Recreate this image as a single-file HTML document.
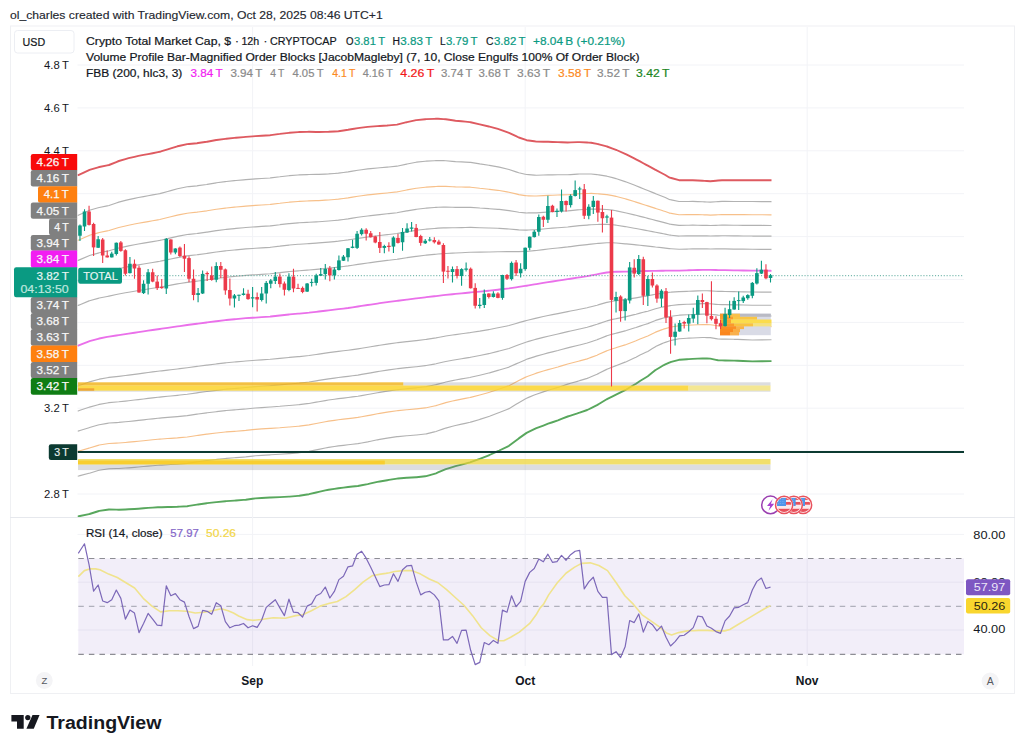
<!DOCTYPE html>
<html lang="en"><head><meta charset="utf-8"><title>Crypto Total Market Cap chart</title>
<style>html,body{margin:0;padding:0;background:#fff}body{width:1024px;height:751px;overflow:hidden}svg{display:block;font-family:"Liberation Sans", sans-serif}</style>
</head><body>
<svg width="1024" height="751" viewBox="0 0 1024 751">
<rect width="1024" height="751" fill="#ffffff"/>
<defs>
<clipPath id="mainclip"><rect x="77.5" y="27" width="886.5" height="490"/></clipPath>
<clipPath id="rsiclip"><rect x="77.5" y="518" width="886.5" height="148"/></clipPath>
<clipPath id="flagclip"><circle cx="0" cy="0" r="7.15"/></clipPath>
</defs>
<text x="10" y="19.2" font-size="11.8" fill="#24272f" stroke="#24272f" stroke-width="0.15" textLength="372.7" lengthAdjust="spacingAndGlyphs">ol_charles created with TradingView.com, Oct 28, 2025 08:46 UTC+1</text>
<rect x="10.5" y="26" width="1004" height="667.5" fill="none" stroke="#eff0f3" stroke-width="1"/>
<line x1="10" y1="517.5" x2="1015" y2="517.5" stroke="#e6e8ed" stroke-width="1"/>
<g stroke="#f2f3f7" stroke-width="1">
<line x1="77.5" y1="65" x2="964" y2="65"/>
<line x1="77.5" y1="107.9" x2="964" y2="107.9"/>
<line x1="77.5" y1="150.8" x2="964" y2="150.8"/>
<line x1="77.5" y1="193.7" x2="964" y2="193.7"/>
<line x1="77.5" y1="236.6" x2="964" y2="236.6"/>
<line x1="77.5" y1="279.5" x2="964" y2="279.5"/>
<line x1="77.5" y1="322.4" x2="964" y2="322.4"/>
<line x1="77.5" y1="365.3" x2="964" y2="365.3"/>
<line x1="77.5" y1="408.2" x2="964" y2="408.2"/>
<line x1="77.5" y1="451.1" x2="964" y2="451.1"/>
<line x1="77.5" y1="494" x2="964" y2="494"/>
<line x1="252.6" y1="27" x2="252.6" y2="666"/>
<line x1="525.2" y1="27" x2="525.2" y2="666"/>
<line x1="807.2" y1="27" x2="807.2" y2="666"/>
<line x1="77.5" y1="534.4" x2="964" y2="534.4"/>
<line x1="77.5" y1="582.2" x2="964" y2="582.2"/>
<line x1="77.5" y1="630" x2="964" y2="630"/>
</g>
<g clip-path="url(#mainclip)">
<path d="M77.5 305.68 L78.8 305.14 L79.96 304.66 L89.05 300.88 L89.5 300.7 L98.14 298.34 L99.3 298.03 L107.22 296.45 L109 296.1 L116.31 294.54 L118.8 294.01 L125.39 292.8 L128.6 292.21 L134.48 291.21 L138.4 290.55 L143.57 289.74 L148.1 289.02 L152.65 288.3 L157.9 287.46 L159.8 287.16 L161.74 286.8 L167.7 285.7 L170.82 285.12 L177.4 283.9 L179.91 283.49 L187.2 282.31 L189 282.09 L197 281.14 L198.08 280.99 L206.7 279.85 L207.17 279.79 L216.25 278.51 L216.5 278.48 L225.34 277.34 L226.3 277.21 L234.43 276.44 L236 276.29 L243.51 275.62 L245.8 275.41 L252.6 274.94 L255.5 274.73 L261.68 274.33 L270 273.79 L270.77 273.7 L279.8 272.64 L279.86 272.63 L288.94 271.61 L289.5 271.54 L298.03 270.81 L299.3 270.7 L307.11 270.14 L309 270.01 L316.2 269.37 L318.8 269.14 L325.29 268.5 L328.6 268.17 L334.37 267.57 L338.4 267.15 L343.46 266.52 L348.1 265.94 L352.54 265.24 L357.9 264.4 L361.63 263.85 L367.7 262.97 L370.72 262.57 L377.4 261.68 L379.8 261.37 L387.2 260.42 L388.89 260.22 L397 259.25 L397.97 259.1 L406.7 257.73 L407.06 257.68 L416.15 256.37 L416.5 256.32 L425.23 255.29 L426.3 255.17 L434.32 254.38 L436 254.22 L438 254.02 L443.4 253.63 L445.8 253.46 L452.49 253.18 L455.5 253.05 L461.58 252.73 L465.3 252.53 L470 252.29 L470.66 252.28 L479.75 252.14 L479.8 252.14 L488.83 252.01 L489.5 252 L497.92 251.76 L499.3 251.73 L507.01 251.69 L509 251.68 L516.09 251.65 L518.8 251.64 L525.18 251.42 L526.6 251.37 L528.6 251.2 L534.26 250.66 L536.4 250.45 L543.35 249.58 L548.1 248.99 L552.44 248.53 L557.9 247.95 L561.52 247.58 L567.7 246.94 L570.61 246.56 L577.4 245.68 L579.4 245.42 L579.69 245.39 L587.2 244.57 L588.78 244.37 L591.1 244.07 L597 243.52 L597.87 243.44 L598.9 243.34 L606.7 242.74 L606.95 242.74 L612.6 242.72 L616.04 242.98 L616.5 243.01 L625.12 243.81 L626.3 243.92 L634.21 244.69 L636 244.87 L640 245.29 L643.3 245.63 L645.8 245.89 L647.8 246.12 L652.38 246.64 L655.5 246.99 L655.6 247.01 L661.47 247.67 L663.4 247.88 L665.3 248.1 L669.3 248.64 L670 248.67 L670.55 248.71 L671.25 248.76 L679 249.27 L679.64 249.25 L686.9 249.08 L688.73 249.03 L692.7 248.94 L697.81 248.88 L702.5 248.83 L704.5 248.81 L706.9 248.88 L710.3 248.97 L715.98 248.93 L718.1 248.92 L722 248.9 L725.07 248.94 L733.75 249.06 L734.16 249.06 L737.7 249.11 L743.24 249.16 L752.33 249.25 L752.5 249.25 L761.41 249.33 L770.5 249.41 L771.5 249.42" fill="none" stroke="#b2b2b2" stroke-width="1.15" stroke-linejoin="round"/>
<path d="M77.5 280.78 L78.8 280.23 L79.96 279.74 L89.05 275.89 L89.5 275.7 L98.14 273.31 L99.3 272.99 L107.22 271.4 L109 271.05 L116.31 269.22 L118.8 268.59 L125.39 267.25 L128.6 266.6 L134.48 265.53 L138.4 264.82 L143.57 263.98 L148.1 263.24 L152.65 262.48 L157.9 261.61 L159.8 261.29 L161.74 260.89 L167.7 259.65 L170.82 258.99 L177.4 257.61 L179.91 257.17 L187.2 255.9 L189 255.69 L197 254.78 L198.08 254.63 L206.7 253.47 L207.17 253.4 L216.25 252.05 L216.5 252.01 L225.34 250.87 L226.3 250.74 L234.43 249.96 L236 249.81 L243.51 249.15 L245.8 248.94 L252.6 248.45 L255.5 248.24 L261.68 247.84 L270 247.31 L270.77 247.21 L279.8 246.13 L279.86 246.12 L288.94 245.09 L289.5 245.03 L298.03 244.3 L299.3 244.2 L307.11 243.71 L309 243.6 L316.2 243.11 L318.8 242.93 L325.29 242.39 L328.6 242.11 L334.37 241.56 L338.4 241.17 L343.46 240.52 L348.1 239.93 L352.54 239.21 L357.9 238.35 L361.63 237.82 L367.7 236.97 L370.72 236.59 L377.4 235.77 L379.8 235.49 L387.2 234.64 L388.89 234.45 L397 233.52 L397.97 233.35 L406.7 231.83 L407.06 231.78 L416.15 230.35 L416.5 230.29 L425.23 229.29 L426.3 229.17 L434.32 228.48 L436 228.33 L438 228.16 L443.4 227.93 L445.8 227.82 L452.49 227.78 L455.5 227.76 L461.58 227.61 L465.3 227.52 L470 227.41 L470.66 227.43 L479.75 227.73 L479.8 227.73 L488.83 228.03 L489.5 228.05 L497.92 228.29 L499.3 228.33 L507.01 228.83 L509 228.96 L516.09 229.59 L518.8 229.83 L525.18 230.07 L526.6 230.12 L528.6 230.04 L534.26 229.76 L536.4 229.65 L543.35 228.97 L548.1 228.51 L552.44 228.16 L557.9 227.72 L561.52 227.45 L567.7 226.98 L570.61 226.66 L577.4 225.9 L579.4 225.68 L579.69 225.66 L587.2 225.06 L588.78 224.92 L591.1 224.7 L597 224.49 L597.87 224.45 L598.9 224.42 L606.7 224.33 L606.95 224.35 L612.6 224.73 L616.04 225.18 L616.5 225.24 L625.12 226.6 L626.3 226.79 L634.21 228.2 L636 228.52 L640 229.27 L643.3 229.89 L645.8 230.36 L647.8 230.74 L652.38 231.64 L655.5 232.24 L655.6 232.26 L661.47 233.39 L663.4 233.76 L665.3 234.13 L669.3 235.04 L670 235.11 L670.55 235.17 L671.25 235.24 L679 236.07 L679.64 236.05 L686.9 235.91 L688.73 235.88 L692.7 235.8 L697.81 235.81 L702.5 235.82 L704.5 235.83 L706.9 235.91 L710.3 236.02 L715.98 235.9 L718.1 235.85 L722 235.77 L725.07 235.8 L733.75 235.9 L734.16 235.9 L737.7 235.94 L743.24 235.98 L752.33 236.05 L752.5 236.05 L761.41 236.12 L770.5 236.18 L771.5 236.19" fill="none" stroke="#b2b2b2" stroke-width="1.15" stroke-linejoin="round"/>
<path d="M77.5 260.66 L78.8 260.1 L79.96 259.6 L89.05 255.69 L89.5 255.5 L98.14 253.08 L99.3 252.75 L107.22 251.16 L109 250.8 L116.31 248.75 L118.8 248.05 L125.39 246.6 L128.6 245.9 L134.48 244.77 L138.4 244.02 L143.57 243.16 L148.1 242.4 L152.65 241.62 L157.9 240.71 L159.8 240.38 L161.74 239.95 L167.7 238.6 L170.82 237.88 L177.4 236.35 L179.91 235.89 L187.2 234.55 L189 234.35 L197 233.47 L198.08 233.32 L206.7 232.15 L207.17 232.08 L216.25 230.66 L216.5 230.62 L225.34 229.47 L226.3 229.35 L234.43 228.56 L236 228.4 L243.51 227.75 L245.8 227.55 L252.6 227.04 L255.5 226.83 L261.68 226.43 L270 225.9 L270.77 225.81 L279.8 224.7 L279.86 224.69 L288.94 223.66 L289.5 223.6 L298.03 222.88 L299.3 222.77 L307.11 222.35 L309 222.25 L316.2 221.88 L318.8 221.75 L325.29 221.29 L328.6 221.05 L334.37 220.53 L338.4 220.17 L343.46 219.51 L348.1 218.9 L352.54 218.17 L357.9 217.3 L361.63 216.79 L367.7 215.95 L370.72 215.6 L377.4 214.83 L379.8 214.58 L387.2 213.8 L388.89 213.61 L397 212.72 L397.97 212.54 L406.7 210.9 L407.06 210.84 L416.15 209.31 L416.5 209.25 L425.23 208.27 L426.3 208.15 L434.32 207.54 L436 207.41 L438 207.26 L443.4 207.15 L445.8 207.1 L452.49 207.25 L455.5 207.32 L461.58 207.31 L465.3 207.31 L470 207.3 L470.66 207.35 L479.75 207.99 L479.8 208 L488.83 208.65 L489.5 208.7 L497.92 209.32 L499.3 209.42 L507.01 210.36 L509 210.6 L516.09 211.76 L518.8 212.2 L525.18 212.82 L526.6 212.95 L528.6 212.94 L534.26 212.87 L536.4 212.84 L543.35 212.31 L548.1 211.95 L552.44 211.7 L557.9 211.38 L561.52 211.18 L567.7 210.85 L570.61 210.57 L577.4 209.91 L579.4 209.72 L579.69 209.7 L587.2 209.3 L588.78 209.19 L591.1 209.04 L597 209.1 L597.87 209.11 L598.9 209.12 L606.7 209.45 L606.95 209.48 L612.6 210.18 L616.04 210.79 L616.5 210.87 L625.12 212.7 L626.3 212.95 L634.21 214.87 L636 215.3 L640 216.32 L643.3 217.16 L645.8 217.8 L647.8 218.32 L652.38 219.51 L655.5 220.32 L655.6 220.35 L661.47 221.85 L663.4 222.35 L665.3 222.84 L669.3 224.06 L670 224.15 L670.55 224.22 L671.25 224.32 L679 225.4 L679.64 225.39 L686.9 225.28 L688.73 225.25 L692.7 225.19 L697.81 225.25 L702.5 225.31 L704.5 225.34 L706.9 225.43 L710.3 225.55 L715.98 225.36 L718.1 225.29 L722 225.16 L725.07 225.19 L733.75 225.26 L734.16 225.27 L737.7 225.3 L743.24 225.33 L752.33 225.39 L752.5 225.39 L761.41 225.44 L770.5 225.49 L771.5 225.5" fill="none" stroke="#b2b2b2" stroke-width="1.15" stroke-linejoin="round"/>
<path d="M77.5 240.54 L78.8 239.97 L79.96 239.46 L89.05 235.49 L89.5 235.3 L98.14 232.84 L99.3 232.51 L107.22 230.91 L109 230.55 L116.31 228.28 L118.8 227.51 L125.39 225.96 L128.6 225.2 L134.48 224.02 L138.4 223.22 L143.57 222.34 L148.1 221.56 L152.65 220.75 L157.9 219.82 L159.8 219.48 L161.74 219.01 L167.7 217.55 L170.82 216.76 L177.4 215.1 L179.91 214.62 L187.2 213.2 L189 213.01 L197 212.17 L198.08 212.02 L206.7 210.83 L207.17 210.75 L216.25 209.28 L216.5 209.24 L225.34 208.08 L226.3 207.96 L234.43 207.15 L236 207 L243.51 206.35 L245.8 206.16 L252.6 205.64 L255.5 205.42 L261.68 205.02 L270 204.49 L270.77 204.4 L279.8 203.27 L279.86 203.26 L288.94 202.23 L289.5 202.17 L298.03 201.46 L299.3 201.35 L307.11 200.99 L309 200.9 L316.2 200.66 L318.8 200.57 L325.29 200.18 L328.6 199.99 L334.37 199.51 L338.4 199.17 L343.46 198.5 L348.1 197.87 L352.54 197.14 L357.9 196.25 L361.63 195.75 L367.7 194.93 L370.72 194.61 L377.4 193.89 L379.8 193.66 L387.2 192.96 L388.89 192.78 L397 191.93 L397.97 191.73 L406.7 189.97 L407.06 189.9 L416.15 188.27 L416.5 188.21 L425.23 187.25 L426.3 187.13 L434.32 186.6 L436 186.49 L438 186.36 L443.4 186.37 L445.8 186.38 L452.49 186.72 L455.5 186.88 L461.58 187.01 L465.3 187.09 L470 187.19 L470.66 187.27 L479.75 188.26 L479.8 188.27 L488.83 189.27 L489.5 189.35 L497.92 190.35 L499.3 190.51 L507.01 191.88 L509 192.24 L516.09 193.93 L518.8 194.57 L525.18 195.56 L526.6 195.78 L528.6 195.84 L534.26 195.98 L536.4 196.03 L543.35 195.65 L548.1 195.39 L552.44 195.23 L557.9 195.03 L561.52 194.91 L567.7 194.72 L570.61 194.48 L577.4 193.93 L579.4 193.76 L579.69 193.75 L587.2 193.54 L588.78 193.47 L591.1 193.38 L597 193.72 L597.87 193.76 L598.9 193.82 L606.7 194.57 L606.95 194.62 L612.6 195.64 L616.04 196.4 L616.5 196.51 L625.12 198.8 L626.3 199.11 L634.21 201.54 L636 202.08 L640 203.37 L643.3 204.44 L645.8 205.24 L647.8 205.89 L652.38 207.38 L655.5 208.4 L655.6 208.43 L661.47 210.32 L663.4 210.94 L665.3 211.55 L669.3 213.07 L670 213.18 L670.55 213.28 L671.25 213.4 L679 214.73 L679.64 214.73 L686.9 214.64 L688.73 214.62 L692.7 214.57 L697.81 214.69 L702.5 214.8 L704.5 214.84 L706.9 214.94 L710.3 215.09 L715.98 214.82 L718.1 214.73 L722 214.55 L725.07 214.57 L733.75 214.63 L734.16 214.63 L737.7 214.66 L743.24 214.68 L752.33 214.72 L752.5 214.72 L761.41 214.76 L770.5 214.8 L771.5 214.81" fill="none" stroke="#f7c08a" stroke-width="1.15" stroke-linejoin="round"/>
<path d="M77.5 215.64 L78.8 215.06 L79.96 214.54 L89.05 210.5 L89.5 210.3 L98.14 207.81 L99.3 207.47 L107.22 205.86 L109 205.5 L116.31 202.95 L118.8 202.09 L125.39 200.41 L128.6 199.59 L134.48 198.33 L138.4 197.49 L143.57 196.58 L148.1 195.78 L152.65 194.93 L157.9 193.96 L159.8 193.61 L161.74 193.09 L167.7 191.5 L170.82 190.63 L177.4 188.81 L179.91 188.29 L187.2 186.79 L189 186.61 L197 185.81 L198.08 185.66 L206.7 184.45 L207.17 184.37 L216.25 182.82 L216.5 182.78 L225.34 181.61 L226.3 181.49 L234.43 180.67 L236 180.51 L243.51 179.88 L245.8 179.69 L252.6 179.15 L255.5 178.92 L261.68 178.53 L270 178.01 L270.77 177.91 L279.8 176.76 L279.86 176.75 L288.94 175.72 L289.5 175.66 L298.03 174.95 L299.3 174.84 L307.11 174.56 L309 174.49 L316.2 174.4 L318.8 174.36 L325.29 174.07 L328.6 173.93 L334.37 173.5 L338.4 173.19 L343.46 172.5 L348.1 171.86 L352.54 171.11 L357.9 170.2 L361.63 169.72 L367.7 168.93 L370.72 168.64 L377.4 167.98 L379.8 167.78 L387.2 167.18 L388.89 167.01 L397 166.19 L397.97 165.98 L406.7 164.07 L407.06 164 L416.15 162.25 L416.5 162.18 L425.23 161.25 L426.3 161.13 L434.32 160.7 L436 160.61 L438 160.5 L443.4 160.67 L445.8 160.74 L452.49 161.32 L455.5 161.58 L461.58 161.89 L465.3 162.08 L470 162.31 L470.66 162.42 L479.75 163.85 L479.8 163.86 L488.83 165.3 L489.5 165.4 L497.92 166.88 L499.3 167.12 L507.01 169.03 L509 169.52 L516.09 171.86 L518.8 172.76 L525.18 174.21 L526.6 174.54 L528.6 174.69 L534.26 175.08 L536.4 175.23 L543.35 175.04 L548.1 174.91 L552.44 174.86 L557.9 174.8 L561.52 174.78 L567.7 174.76 L570.61 174.58 L577.4 174.14 L579.4 174.02 L579.69 174.02 L587.2 174.03 L588.78 174.02 L591.1 174.01 L597 174.68 L597.87 174.78 L598.9 174.9 L606.7 176.16 L606.95 176.22 L612.6 177.65 L616.04 178.6 L616.5 178.73 L625.12 181.59 L626.3 181.98 L634.21 185.04 L636 185.73 L640 187.36 L643.3 188.69 L645.8 189.71 L647.8 190.52 L652.38 192.38 L655.5 193.65 L655.6 193.69 L661.47 196.04 L663.4 196.82 L665.3 197.58 L669.3 199.47 L670 199.62 L670.55 199.74 L671.25 199.89 L679 201.53 L679.64 201.53 L686.9 201.48 L688.73 201.46 L692.7 201.43 L697.81 201.62 L702.5 201.79 L704.5 201.86 L706.9 201.97 L710.3 202.13 L715.98 201.79 L718.1 201.66 L722 201.42 L725.07 201.43 L733.75 201.47 L734.16 201.47 L737.7 201.49 L743.24 201.5 L752.33 201.53 L752.5 201.53 L761.41 201.55 L770.5 201.58 L771.5 201.58" fill="none" stroke="#b2b2b2" stroke-width="1.15" stroke-linejoin="round"/>
<path d="M77.5 386.2 L78.8 385.73 L79.96 385.32 L89.05 382.07 L89.5 381.9 L98.14 379.51 L99.3 379.19 L107.22 377.73 L109 377.4 L116.31 376.59 L118.8 376.31 L125.39 375.47 L128.6 375.07 L134.48 374.31 L138.4 373.81 L143.57 373.12 L148.1 372.52 L152.65 371.94 L157.9 371.27 L159.8 371.04 L161.74 370.81 L167.7 370.09 L170.82 369.73 L177.4 368.98 L179.91 368.67 L187.2 367.76 L189 367.52 L197 366.43 L198.08 366.28 L206.7 365.15 L207.17 365.09 L216.25 363.96 L216.5 363.93 L225.34 362.86 L226.3 362.74 L234.43 362.05 L236 361.91 L243.51 361.24 L245.8 361.03 L252.6 360.48 L255.5 360.24 L261.68 359.83 L270 359.29 L270.77 359.22 L279.8 358.35 L279.86 358.35 L288.94 357.45 L289.5 357.4 L298.03 356.67 L299.3 356.56 L307.11 355.73 L309 355.53 L316.2 354.46 L318.8 354.07 L325.29 353.12 L328.6 352.64 L334.37 351.91 L338.4 351.4 L343.46 350.8 L348.1 350.24 L352.54 349.62 L357.9 348.86 L361.63 348.26 L367.7 347.27 L370.72 346.76 L377.4 345.65 L379.8 345.28 L387.2 344.13 L388.89 343.9 L397 342.79 L397.97 342.68 L406.7 341.66 L407.06 341.62 L416.15 340.64 L416.5 340.6 L425.23 339.55 L426.3 339.42 L434.32 338.15 L436 337.89 L438 337.51 L443.4 336.49 L445.8 336.03 L452.49 335.02 L455.5 334.57 L461.58 333.74 L465.3 333.24 L470 332.6 L470.66 332.49 L479.75 331.09 L479.8 331.08 L488.83 329.58 L489.5 329.47 L497.92 327.8 L499.3 327.53 L507.01 325.95 L509 325.55 L516.09 323.45 L518.8 322.65 L525.18 320.85 L526.6 320.44 L528.6 319.98 L534.26 318.61 L536.4 318.09 L543.35 316.56 L548.1 315.52 L552.44 314.68 L557.9 313.63 L561.52 312.88 L567.7 311.6 L570.61 311.03 L577.4 309.69 L579.4 309.29 L579.69 309.23 L587.2 307.7 L588.78 307.29 L591.1 306.7 L597 305.19 L597.87 304.94 L598.9 304.64 L606.7 302.42 L606.95 302.37 L612.6 301.19 L616.04 300.75 L616.5 300.69 L625.12 299.58 L626.3 299.42 L634.21 298.12 L636 297.83 L640 297.1 L643.3 296.55 L645.8 296.13 L647.8 295.81 L652.38 294.89 L655.5 294.26 L655.6 294.24 L661.47 293.33 L663.4 293.03 L665.3 292.81 L669.3 292.35 L670 292.27 L670.55 292.22 L671.25 292.15 L679 291.65 L679.64 291.62 L686.9 291.32 L688.73 291.25 L692.7 291.11 L697.81 290.93 L702.5 290.76 L704.5 290.72 L706.9 290.77 L710.3 290.84 L715.98 291.21 L718.1 291.35 L722 291.42 L725.07 291.47 L733.75 291.63 L734.16 291.64 L737.7 291.73 L743.24 291.83 L752.33 292.01 L752.5 292.01 L761.41 292.06 L770.5 292.11 L771.5 292.11" fill="none" stroke="#b2b2b2" stroke-width="1.15" stroke-linejoin="round"/>
<path d="M77.5 411.11 L78.8 410.68 L79.96 410.3 L89.05 407.3 L89.5 407.15 L98.14 404.69 L99.3 404.36 L107.22 402.96 L109 402.65 L116.31 402.01 L118.8 401.8 L125.39 401.07 L128.6 400.72 L134.48 400.04 L138.4 399.59 L143.57 398.95 L148.1 398.39 L152.65 397.87 L157.9 397.27 L159.8 397.07 L161.74 396.87 L167.7 396.25 L170.82 395.95 L177.4 395.32 L179.91 395.04 L187.2 394.22 L189 393.96 L197 392.83 L198.08 392.69 L206.7 391.53 L207.17 391.47 L216.25 390.36 L216.5 390.33 L225.34 389.29 L226.3 389.18 L234.43 388.52 L236 388.4 L243.51 387.73 L245.8 387.53 L252.6 386.91 L255.5 386.64 L261.68 386.24 L270 385.7 L270.77 385.64 L279.8 384.87 L279.86 384.86 L288.94 384.05 L289.5 384 L298.03 383.28 L299.3 383.17 L307.11 382.25 L309 382.03 L316.2 380.84 L318.8 380.41 L325.29 379.37 L328.6 378.83 L334.37 378.07 L338.4 377.54 L343.46 376.94 L348.1 376.38 L352.54 375.78 L357.9 375.07 L361.63 374.44 L367.7 373.42 L370.72 372.88 L377.4 371.68 L379.8 371.3 L387.2 370.13 L388.89 369.9 L397 368.75 L397.97 368.64 L406.7 367.67 L407.06 367.64 L416.15 366.74 L416.5 366.7 L425.23 365.67 L426.3 365.54 L434.32 364.07 L436 363.76 L438 363.3 L443.4 362.04 L445.8 361.48 L452.49 360.26 L455.5 359.7 L461.58 358.74 L465.3 358.15 L470 357.4 L470.66 357.27 L479.75 355.52 L479.8 355.51 L488.83 353.6 L489.5 353.46 L497.92 351.37 L499.3 351.03 L507.01 349.04 L509 348.53 L516.09 345.81 L518.8 344.77 L525.18 342.45 L526.6 341.93 L528.6 341.38 L534.26 339.75 L536.4 339.13 L543.35 337.39 L548.1 336.19 L552.44 335.24 L557.9 334.03 L561.52 333.15 L567.7 331.65 L570.61 331.01 L577.4 329.51 L579.4 329.05 L579.69 328.98 L587.2 327.25 L588.78 326.77 L591.1 326.08 L597 324.3 L597.87 324 L598.9 323.64 L606.7 320.94 L606.95 320.87 L612.6 319.38 L616.04 318.69 L616.5 318.6 L625.12 316.87 L626.3 316.64 L634.21 314.68 L636 314.24 L640 313.13 L643.3 312.3 L645.8 311.67 L647.8 311.19 L652.38 309.74 L655.5 308.75 L655.6 308.72 L661.47 307.31 L663.4 306.84 L665.3 306.51 L669.3 305.81 L670 305.68 L670.55 305.59 L671.25 305.48 L679 304.67 L679.64 304.64 L686.9 304.29 L688.73 304.22 L692.7 304.07 L697.81 303.87 L702.5 303.68 L704.5 303.66 L706.9 303.72 L710.3 303.79 L715.98 304.32 L718.1 304.52 L722 304.6 L725.07 304.65 L733.75 304.81 L734.16 304.82 L737.7 304.92 L743.24 305.05 L752.33 305.27 L752.5 305.27 L761.41 305.28 L770.5 305.29 L771.5 305.29" fill="none" stroke="#b2b2b2" stroke-width="1.15" stroke-linejoin="round"/>
<path d="M77.5 431.25 L78.8 430.85 L79.96 430.49 L89.05 427.69 L89.5 427.55 L98.14 425.04 L99.3 424.7 L107.22 423.35 L109 423.05 L116.31 422.57 L118.8 422.4 L125.39 421.76 L128.6 421.45 L134.48 420.83 L138.4 420.42 L143.57 419.82 L148.1 419.3 L152.65 418.82 L157.9 418.27 L159.8 418.11 L161.74 417.93 L167.7 417.4 L170.82 417.14 L177.4 416.6 L179.91 416.35 L187.2 415.6 L189 415.34 L197 414.17 L198.08 414.02 L206.7 412.85 L207.17 412.79 L216.25 411.7 L216.5 411.68 L225.34 410.66 L226.3 410.55 L234.43 409.92 L236 409.8 L243.51 409.15 L245.8 408.95 L252.6 408.27 L255.5 407.98 L261.68 407.58 L270 407.05 L270.77 406.99 L279.8 406.3 L279.86 406.29 L288.94 405.55 L289.5 405.5 L298.03 404.78 L299.3 404.67 L307.11 403.69 L309 403.45 L316.2 402.16 L318.8 401.7 L325.29 400.57 L328.6 400 L334.37 399.22 L338.4 398.67 L343.46 398.06 L348.1 397.5 L352.54 396.93 L357.9 396.25 L361.63 395.6 L367.7 394.55 L370.72 393.98 L377.4 392.73 L379.8 392.34 L387.2 391.15 L388.89 390.9 L397 389.72 L397.97 389.62 L406.7 388.7 L407.06 388.67 L416.15 387.83 L416.5 387.8 L425.23 386.78 L426.3 386.65 L434.32 385.02 L436 384.68 L438 384.14 L443.4 382.69 L445.8 382.05 L452.49 380.65 L455.5 380.02 L461.58 378.94 L465.3 378.28 L470 377.45 L470.66 377.3 L479.75 375.26 L479.8 375.25 L488.83 373.01 L489.5 372.85 L497.92 370.42 L499.3 370.02 L507.01 367.7 L509 367.1 L516.09 363.88 L518.8 362.65 L525.18 359.91 L526.6 359.3 L528.6 358.67 L534.26 356.83 L536.4 356.14 L543.35 354.22 L548.1 352.9 L552.44 351.85 L557.9 350.52 L561.52 349.54 L567.7 347.85 L570.61 347.15 L577.4 345.53 L579.4 345.02 L579.69 344.95 L587.2 343.05 L588.78 342.52 L591.1 341.73 L597 339.75 L597.87 339.4 L598.9 338.99 L606.7 335.9 L606.95 335.82 L612.6 334.07 L616.04 333.19 L616.5 333.07 L625.12 330.85 L626.3 330.55 L634.21 328.06 L636 327.5 L640 326.09 L643.3 325.03 L645.8 324.23 L647.8 323.61 L652.38 321.73 L655.5 320.46 L655.6 320.42 L661.47 318.6 L663.4 318 L665.3 317.58 L669.3 316.68 L670 316.52 L670.55 316.4 L671.25 316.25 L679 315.2 L679.64 315.17 L686.9 314.78 L688.73 314.7 L692.7 314.54 L697.81 314.33 L702.5 314.13 L704.5 314.13 L706.9 314.18 L710.3 314.25 L715.98 314.92 L718.1 315.17 L722 315.25 L725.07 315.3 L733.75 315.46 L734.16 315.48 L737.7 315.58 L743.24 315.74 L752.33 315.98 L752.5 315.99 L761.41 315.97 L770.5 315.95 L771.5 315.95" fill="none" stroke="#b2b2b2" stroke-width="1.15" stroke-linejoin="round"/>
<path d="M77.5 451.39 L78.8 451.02 L79.96 450.68 L89.05 448.08 L89.5 447.95 L98.14 445.39 L99.3 445.04 L107.22 443.74 L109 443.45 L116.31 443.12 L118.8 443 L125.39 442.45 L128.6 442.18 L134.48 441.63 L138.4 441.26 L143.57 440.7 L148.1 440.21 L152.65 439.78 L157.9 439.28 L159.8 439.14 L161.74 439 L167.7 438.55 L170.82 438.33 L177.4 437.89 L179.91 437.66 L187.2 436.98 L189 436.71 L197 435.51 L198.08 435.36 L206.7 434.17 L207.17 434.12 L216.25 433.04 L216.5 433.02 L225.34 432.03 L226.3 431.92 L234.43 431.32 L236 431.21 L243.51 430.56 L245.8 430.37 L252.6 429.63 L255.5 429.32 L261.68 428.93 L270 428.4 L270.77 428.34 L279.8 427.73 L279.86 427.72 L288.94 427.04 L289.5 427 L298.03 426.29 L299.3 426.18 L307.11 425.12 L309 424.87 L316.2 423.49 L318.8 422.99 L325.29 421.78 L328.6 421.17 L334.37 420.36 L338.4 419.8 L343.46 419.19 L348.1 418.62 L352.54 418.08 L357.9 417.43 L361.63 416.77 L367.7 415.68 L370.72 415.09 L377.4 413.77 L379.8 413.38 L387.2 412.17 L388.89 411.91 L397 410.7 L397.97 410.6 L406.7 409.73 L407.06 409.7 L416.15 408.93 L416.5 408.9 L425.23 407.88 L426.3 407.76 L434.32 405.97 L436 405.59 L438 404.99 L443.4 403.34 L445.8 402.62 L452.49 401.04 L455.5 400.33 L461.58 399.15 L465.3 398.42 L470 397.5 L470.66 397.33 L479.75 395 L479.8 394.99 L488.83 392.43 L489.5 392.24 L497.92 389.47 L499.3 389.01 L507.01 386.36 L509 385.67 L516.09 381.95 L518.8 380.53 L525.18 377.37 L526.6 376.67 L528.6 375.96 L534.26 373.92 L536.4 373.15 L543.35 371.04 L548.1 369.61 L552.44 368.46 L557.9 367.02 L561.52 365.92 L567.7 364.05 L570.61 363.3 L577.4 361.55 L579.4 361 L579.69 360.92 L587.2 358.85 L588.78 358.26 L591.1 357.39 L597 355.19 L597.87 354.81 L598.9 354.34 L606.7 350.86 L606.95 350.77 L612.6 348.77 L616.04 347.69 L616.5 347.55 L625.12 344.83 L626.3 344.46 L634.21 341.45 L636 340.76 L640 339.05 L643.3 337.77 L645.8 336.8 L647.8 336.03 L652.38 333.73 L655.5 332.17 L655.6 332.12 L661.47 329.9 L663.4 329.17 L665.3 328.65 L669.3 327.55 L670 327.36 L670.55 327.21 L671.25 327.02 L679 325.73 L679.64 325.69 L686.9 325.26 L688.73 325.18 L692.7 325.01 L697.81 324.78 L702.5 324.58 L704.5 324.59 L706.9 324.64 L710.3 324.72 L715.98 325.52 L718.1 325.82 L722 325.9 L725.07 325.95 L733.75 326.12 L734.16 326.13 L737.7 326.25 L743.24 326.42 L752.33 326.7 L752.5 326.7 L761.41 326.66 L770.5 326.61 L771.5 326.61" fill="none" stroke="#f7c08a" stroke-width="1.15" stroke-linejoin="round"/>
<path d="M77.5 476.3 L78.8 475.97 L79.96 475.67 L89.05 473.31 L89.5 473.2 L98.14 470.57 L99.3 470.21 L107.22 468.97 L109 468.7 L116.31 468.55 L118.8 468.49 L125.39 468.05 L128.6 467.83 L134.48 467.35 L138.4 467.03 L143.57 466.53 L148.1 466.08 L152.65 465.71 L157.9 465.28 L159.8 465.17 L161.74 465.06 L167.7 464.71 L170.82 464.55 L177.4 464.23 L179.91 464.02 L187.2 463.44 L189 463.16 L197 461.92 L198.08 461.77 L206.7 460.55 L207.17 460.5 L216.25 459.45 L216.5 459.42 L225.34 458.46 L226.3 458.36 L234.43 457.8 L236 457.69 L243.51 457.06 L245.8 456.87 L252.6 456.06 L255.5 455.72 L261.68 455.33 L270 454.81 L270.77 454.76 L279.8 454.24 L279.86 454.24 L288.94 453.64 L289.5 453.6 L298.03 452.89 L299.3 452.79 L307.11 451.64 L309 451.37 L316.2 449.87 L318.8 449.33 L325.29 448.03 L328.6 447.36 L334.37 446.53 L338.4 445.94 L343.46 445.32 L348.1 444.76 L352.54 444.25 L357.9 443.64 L361.63 442.95 L367.7 441.83 L370.72 441.2 L377.4 439.81 L379.8 439.41 L387.2 438.17 L388.89 437.91 L397 436.65 L397.97 436.56 L406.7 435.74 L407.06 435.72 L416.15 435.03 L416.5 435 L425.23 434 L426.3 433.88 L434.32 431.89 L436 431.47 L438 430.78 L443.4 428.9 L445.8 428.07 L452.49 426.28 L455.5 425.47 L461.58 424.14 L465.3 423.33 L470 422.3 L470.66 422.11 L479.75 419.43 L479.8 419.42 L488.83 416.44 L489.5 416.23 L497.92 413.04 L499.3 412.51 L507.01 409.45 L509 408.65 L516.09 404.31 L518.8 402.65 L525.18 398.98 L526.6 398.16 L528.6 397.36 L534.26 395.06 L536.4 394.19 L543.35 391.87 L548.1 390.28 L552.44 389.02 L557.9 387.42 L561.52 386.19 L567.7 384.1 L570.61 383.28 L577.4 381.36 L579.4 380.76 L579.69 380.67 L587.2 378.4 L588.78 377.74 L591.1 376.77 L597 374.31 L597.87 373.87 L598.9 373.34 L606.7 369.38 L606.95 369.27 L612.6 366.96 L616.04 365.63 L616.5 365.45 L625.12 362.13 L626.3 361.68 L634.21 358 L636 357.17 L640 355.08 L643.3 353.52 L645.8 352.34 L647.8 351.4 L652.38 348.58 L655.5 346.66 L655.6 346.6 L661.47 343.87 L663.4 342.98 L665.3 342.34 L669.3 341 L670 340.77 L670.55 340.58 L671.25 340.35 L679 338.75 L679.64 338.71 L686.9 338.23 L688.73 338.15 L692.7 337.96 L697.81 337.72 L702.5 337.51 L704.5 337.53 L706.9 337.59 L710.3 337.67 L715.98 338.64 L718.1 339 L722 339.07 L725.07 339.13 L733.75 339.3 L734.16 339.31 L737.7 339.44 L743.24 339.64 L752.33 339.96 L752.5 339.97 L761.41 339.88 L770.5 339.8 L771.5 339.79" fill="none" stroke="#b2b2b2" stroke-width="1.15" stroke-linejoin="round"/>
<path d="M77.5 175.4 L78.8 174.8 L79.96 174.27 L89.05 170.11 L89.5 169.9 L98.14 167.34 L99.3 167 L107.22 165.37 L109 165 L116.31 162.02 L118.8 161 L125.39 159.12 L128.6 158.2 L134.48 156.82 L138.4 155.9 L143.57 154.94 L148.1 154.1 L152.65 153.21 L157.9 152.17 L159.8 151.8 L161.74 151.21 L167.7 149.4 L170.82 148.4 L177.4 146.3 L179.91 145.74 L187.2 144.1 L189 143.94 L197 143.2 L198.08 143.04 L206.7 141.8 L207.17 141.71 L216.25 140.05 L216.5 140 L225.34 138.83 L226.3 138.7 L234.43 137.86 L236 137.7 L243.51 137.09 L245.8 136.9 L252.6 136.34 L255.5 136.1 L261.68 135.72 L270 135.2 L270.77 135.1 L279.8 133.9 L279.86 133.89 L288.94 132.86 L289.5 132.8 L298.03 132.1 L299.3 132 L307.11 131.84 L309 131.8 L316.2 131.95 L318.8 132 L325.29 131.87 L328.6 131.8 L334.37 131.45 L338.4 131.2 L343.46 130.47 L348.1 129.8 L352.54 129.03 L357.9 128.1 L361.63 127.64 L367.7 126.9 L370.72 126.65 L377.4 126.1 L379.8 125.95 L387.2 125.5 L388.89 125.34 L397 124.6 L397.97 124.36 L406.7 122.2 L407.06 122.12 L416.15 120.18 L416.5 120.1 L425.23 119.21 L426.3 119.1 L434.32 118.83 L436 118.77 L438 118.7 L443.4 119.12 L445.8 119.3 L452.49 120.27 L455.5 120.7 L461.58 121.29 L465.3 121.65 L470 122.1 L470.66 122.26 L479.75 124.39 L479.8 124.4 L488.83 126.54 L489.5 126.7 L497.92 128.93 L499.3 129.3 L507.01 132.08 L509 132.8 L516.09 136.2 L518.8 137.5 L525.18 139.71 L526.6 140.2 L528.6 140.49 L534.26 141.29 L536.4 141.6 L543.35 141.72 L548.1 141.8 L552.44 141.93 L557.9 142.1 L561.52 142.25 L567.7 142.5 L570.61 142.4 L577.4 142.17 L579.4 142.1 L579.69 142.12 L587.2 142.5 L588.78 142.58 L591.1 142.7 L597 143.91 L597.87 144.09 L598.9 144.3 L606.7 146.4 L606.95 146.49 L612.6 148.57 L616.04 149.83 L616.5 150 L625.12 153.78 L626.3 154.3 L634.21 158.38 L636 159.3 L640 161.46 L643.3 163.25 L645.8 164.6 L647.8 165.67 L652.38 168.13 L655.5 169.8 L655.6 169.85 L661.47 172.97 L663.4 173.99 L665.3 175 L669.3 177.5 L670 177.69 L670.55 177.85 L671.25 178.04 L679 180.2 L679.64 180.2 L686.9 180.2 L688.73 180.2 L692.7 180.2 L697.81 180.49 L702.5 180.76 L704.5 180.87 L706.9 181.01 L710.3 181.2 L715.98 180.71 L718.1 180.53 L722 180.2 L725.07 180.2 L733.75 180.2 L734.16 180.2 L737.7 180.2 L743.24 180.2 L752.33 180.2 L752.5 180.2 L761.41 180.2 L770.5 180.2 L771.5 180.2" fill="none" stroke="#de5a60" stroke-width="1.9" stroke-linejoin="round"/>
<path d="M77.5 516.58 L78.8 516.3 L79.96 516.05 L89.05 514.1 L89.5 514 L98.14 511.27 L99.3 510.9 L107.22 509.76 L109 509.5 L116.31 509.65 L118.8 509.7 L125.39 509.43 L128.6 509.3 L134.48 508.94 L138.4 508.7 L143.57 508.27 L148.1 507.9 L152.65 507.62 L157.9 507.3 L159.8 507.24 L161.74 507.18 L167.7 507 L170.82 506.94 L177.4 506.8 L179.91 506.65 L187.2 506.2 L189 505.91 L197 504.6 L198.08 504.44 L206.7 503.2 L207.17 503.15 L216.25 502.13 L216.5 502.1 L225.34 501.2 L226.3 501.1 L234.43 500.6 L236 500.5 L243.51 499.89 L245.8 499.7 L252.6 498.79 L255.5 498.4 L261.68 498.02 L270 497.5 L270.77 497.47 L279.8 497.1 L279.86 497.1 L288.94 496.63 L289.5 496.6 L298.03 495.9 L299.3 495.8 L307.11 494.51 L309 494.2 L316.2 492.51 L318.8 491.9 L325.29 490.44 L328.6 489.7 L334.37 488.82 L338.4 488.2 L343.46 487.57 L348.1 487 L352.54 486.55 L357.9 486 L361.63 485.28 L367.7 484.1 L370.72 483.42 L377.4 481.9 L379.8 481.48 L387.2 480.2 L388.89 479.92 L397 478.6 L397.97 478.52 L406.7 477.8 L407.06 477.78 L416.15 477.22 L416.5 477.2 L425.23 476.22 L426.3 476.1 L434.32 473.79 L436 473.3 L438 472.46 L443.4 470.2 L445.8 469.2 L452.49 467.06 L455.5 466.1 L461.58 464.55 L465.3 463.6 L470 462.4 L470.66 462.16 L479.75 458.92 L479.8 458.9 L488.83 455.27 L489.5 455 L497.92 451.13 L499.3 450.5 L507.01 446.77 L509 445.8 L516.09 440.44 L518.8 438.4 L525.18 433.9 L526.6 432.9 L528.6 431.94 L534.26 429.22 L536.4 428.2 L543.35 425.53 L548.1 423.7 L552.44 422.24 L557.9 420.4 L561.52 418.96 L567.7 416.5 L570.61 415.57 L577.4 413.4 L579.4 412.71 L579.69 412.6 L587.2 410 L588.78 409.23 L591.1 408.09 L597 405.2 L597.87 404.67 L598.9 404.04 L606.7 399.3 L606.95 399.17 L612.6 396.35 L616.04 394.63 L616.5 394.4 L625.12 390.09 L626.3 389.5 L634.21 384.77 L636 383.7 L640 381 L643.3 378.99 L645.8 377.47 L647.8 376.25 L652.38 372.58 L655.5 370.08 L655.6 370 L661.47 366.46 L663.4 365.3 L665.3 364.48 L669.3 362.74 L670 362.44 L670.55 362.2 L671.25 361.9 L679 359.8 L679.64 359.75 L686.9 359.2 L688.73 359.11 L692.7 358.9 L697.81 358.64 L702.5 358.4 L704.5 358.45 L706.9 358.51 L710.3 358.6 L715.98 359.84 L718.1 360.3 L722 360.37 L725.07 360.43 L733.75 360.6 L734.16 360.62 L737.7 360.77 L743.24 361 L752.33 361.39 L752.5 361.4 L761.41 361.26 L770.5 361.12 L771.5 361.1" fill="none" stroke="#58a75d" stroke-width="1.9" stroke-linejoin="round"/>
<path d="M77.5 345.92 L78.8 345.4 L79.96 344.93 L89.05 341.28 L89.5 341.1 L98.14 338.81 L99.3 338.5 L107.22 336.95 L109 336.6 L116.31 335.48 L118.8 335.1 L125.39 334.09 L128.6 333.6 L134.48 332.73 L138.4 332.14 L143.57 331.37 L148.1 330.7 L152.65 330.03 L157.9 329.25 L159.8 328.97 L161.74 328.68 L167.7 327.8 L170.82 327.35 L177.4 326.41 L179.91 326.05 L187.2 325 L189 324.77 L197 323.74 L198.08 323.6 L206.7 322.5 L207.17 322.44 L216.25 321.28 L216.5 321.25 L225.34 320.12 L226.3 320 L234.43 319.25 L236 319.1 L243.51 318.41 L245.8 318.2 L252.6 317.75 L255.5 317.56 L261.68 317.15 L270 316.6 L270.77 316.51 L279.8 315.49 L279.86 315.49 L288.94 314.46 L289.5 314.4 L298.03 313.66 L299.3 313.55 L307.11 312.86 L309 312.7 L316.2 311.82 L318.8 311.5 L325.29 310.71 L328.6 310.3 L334.37 309.62 L338.4 309.14 L343.46 308.55 L348.1 308 L352.54 307.32 L357.9 306.5 L361.63 305.93 L367.7 305 L370.72 304.55 L377.4 303.56 L379.8 303.2 L387.2 302.1 L388.89 301.88 L397 300.84 L397.97 300.72 L406.7 299.6 L407.06 299.56 L416.15 298.44 L416.5 298.4 L425.23 297.33 L426.3 297.2 L434.32 296.25 L436 296.06 L438 295.82 L443.4 295.18 L445.8 294.9 L452.49 294.24 L455.5 293.94 L461.58 293.34 L465.3 292.97 L470 292.5 L470.66 292.44 L479.75 291.6 L479.8 291.6 L488.83 290.76 L489.5 290.7 L497.92 289.71 L499.3 289.54 L507.01 288.64 L509 288.4 L516.09 287.31 L518.8 286.9 L525.18 285.92 L526.6 285.71 L528.6 285.4 L534.26 284.44 L536.4 284.08 L543.35 282.9 L548.1 282.1 L552.44 281.46 L557.9 280.65 L561.52 280.11 L567.7 279.2 L570.61 278.74 L577.4 277.66 L579.4 277.34 L579.69 277.29 L587.2 276.1 L588.78 275.81 L591.1 275.38 L597 274.29 L597.87 274.13 L598.9 273.94 L606.7 272.5 L606.95 272.47 L612.6 271.8 L616.04 271.75 L616.5 271.74 L625.12 271.62 L626.3 271.6 L634.21 271.36 L636 271.3 L640 271.18 L643.3 271.08 L645.8 271 L647.8 270.97 L652.38 270.89 L655.5 270.84 L655.6 270.84 L661.47 270.74 L663.4 270.71 L665.3 270.68 L669.3 270.61 L670 270.6 L670.55 270.6 L671.25 270.6 L679 270.6 L679.64 270.58 L686.9 270.35 L688.73 270.29 L692.7 270.17 L697.81 270.01 L702.5 269.86 L704.5 269.8 L706.9 269.84 L710.3 269.9 L715.98 270.01 L718.1 270.05 L722 270.12 L725.07 270.17 L733.75 270.33 L734.16 270.34 L737.7 270.4 L743.24 270.47 L752.33 270.57 L752.5 270.58 L761.41 270.68 L770.5 270.79 L771.5 270.8" fill="none" stroke="#ea70ea" stroke-width="1.85" stroke-linejoin="round"/>
<rect x="403.3" y="382.3" width="367.2" height="3.3" fill="#787b86" fill-opacity="0.26"/>
<rect x="78" y="382.3" width="325.3" height="3.3" fill="#f0b015" fill-opacity="0.8"/>
<rect x="688.4" y="385.5" width="82.1" height="5.2" fill="#eed950" fill-opacity="0.62"/>
<rect x="78" y="385.5" width="610.4" height="5.2" fill="#fcd42a" fill-opacity="0.85"/>
<rect x="78" y="388.3" width="16.2" height="2.4" fill="#ee9a30" fill-opacity="0.85"/>
<rect x="78" y="390.7" width="692.5" height="1" fill="#787b86" fill-opacity="0.26"/>
<rect x="78" y="464.4" width="692.5" height="5.7" fill="#787b86" fill-opacity="0.26"/>
<rect x="78" y="459" width="692.5" height="5.4" fill="#ecd232" fill-opacity="0.72"/>
<rect x="78" y="460.6" width="306.8" height="3.8" fill="#fbc818" fill-opacity="0.72"/>
<rect x="720" y="313.7" width="50.8" height="21.5" fill="#d9dbe6"/>
<rect x="720" y="313.7" width="50.8" height="3.1" fill="#b9bac4"/>
<rect x="720" y="313.7" width="7" height="3.3" fill="#fb9a2a"/>
<rect x="727" y="313.7" width="13" height="3.3" fill="#f9c04a"/>
<rect x="720" y="316.8" width="13" height="2.9" fill="#fb9d2b"/>
<rect x="733" y="316.8" width="24" height="2.9" fill="#f9c545"/>
<rect x="720" y="319.5" width="11" height="4.1" fill="#fba62e"/>
<rect x="731" y="319.5" width="40.5" height="4.1" fill="#fbdc4c"/>
<rect x="720" y="323.4" width="14" height="3" fill="#fb9a2a"/>
<rect x="734" y="323.4" width="19" height="3" fill="#f9c240"/>
<rect x="753" y="323.4" width="18.5" height="3" fill="#f6e27e"/>
<rect x="720" y="326.2" width="16" height="2.9" fill="#fb8f24"/>
<rect x="736" y="326.2" width="8" height="2.9" fill="#f9b347"/>
<rect x="720" y="328.9" width="13" height="3.3" fill="#fb8a20"/>
<rect x="733" y="328.9" width="7" height="3.3" fill="#f9ad44"/>
<rect x="720" y="332" width="10" height="3.4" fill="#fb861e"/>
<rect x="730" y="332" width="9" height="3.4" fill="#f9b04c"/>
<line x1="123" y1="275.7" x2="964" y2="275.7" stroke="#58a89a" stroke-width="1" stroke-dasharray="1.1 1.8"/>
<path d="M79.96 224.5V241M84.51 209.25V231M98.14 236V248M111.76 251.75V257.6M116.31 242.4V255.5M129.94 256.9V273.5M143.57 280.25V294M148.11 269V294.4M166.28 238V294M175.37 248.25V254.25M198.08 288.1V302.25M202.62 270.5V294M216.25 262.25V282.25M234.43 294.1V307.5M238.97 294.75V301M243.51 288.25V295.4M252.6 287V307.25M261.68 286.9V301.6M266.23 281V303.5M270.77 279.1V288.25M275.31 272V284.1M288.94 273.25V291.25M307.11 283V292M311.66 278.75V286.4M316.2 273.75V285.4M320.74 267.9V276M325.29 264.1V279.5M334.37 267.25V279.5M338.91 255.4V270.4M343.46 255V261M348 247.9V261.6M352.54 239.75V248.25M357.09 231V249.1M361.63 228.25V235.4M384.34 244.75V253.25M393.43 236.25V252.9M402.52 227.9V250.75M407.06 223.25V232.9M411.6 222V231.6M425.23 239.1V244.1M429.77 237V241.6M452.49 266.6V282.5M461.58 268.25V285.75M466.12 262.5V271.6M479.75 297.9V308.5M484.29 289.5V307.9M493.38 291.25V297.5M502.46 274.75V299.75M511.55 261.6V280.4M520.63 263.25V277.5M525.18 247.5V270.75M529.72 236.4V250.25M534.26 230.1V237.6M538.81 214.5V235.75M547.89 195.75V223M556.98 208.5V217M561.52 189.5V212.6M570.61 194.25V207.6M575.15 180.5V196.4M579.69 186.75V198.9M588.78 204.25V219.25M593.32 196V213.9M606.95 214.75V223M616.04 291.75V312.4M625.12 298V320.5M629.67 262V303.6M638.75 254.9V274.9M647.84 275.75V306.1M661.47 289.25V307M675.1 323.5V345.6M679.64 319.9V331.75M688.73 314.5V331.5M693.27 307.75V322.75M697.81 295.4V324.3M725.07 307.75V326.4M729.61 300.7V318M734.16 297.2V309.8M738.7 291.6V309.9M743.24 295.8V303.1M747.78 294.3V299.75M752.33 281.9V298.2M756.87 268.2V284.5M761.41 260.7V274M770.5 274.1V282.4" stroke="#0a9a82" stroke-width="1.1" fill="none"/>
<path d="M89.05 205.75V225.5M93.59 222.75V256M102.68 238V263M107.22 250.5V257.6M120.85 240.9V251.75M125.39 249.25V275.6M134.48 259.4V278.75M139.02 265.6V292.75M152.65 268.75V282.25M157.19 275.6V290M161.74 279V288.75M170.82 239.25V254.6M179.91 246.5V257M184.45 244V271.9M189 256.2V282.25M193.54 269.4V300.25M207.17 271.6V281M211.71 266.6V280.75M220.8 262V277.9M225.34 268.5V294.75M229.88 278.5V305.4M248.05 289.75V299.75M257.14 292.5V311.6M279.86 273.5V287.5M284.4 281.6V295.4M293.48 268.75V292.25M298.03 283.75V288.9M302.57 286.6V293.25M329.83 266V281.25M366.17 228.25V240.4M370.72 231V237.5M375.26 235.75V243.25M379.8 232V252.9M388.89 242.25V251.6M397.97 234.1V243.5M416.15 224.1V237.25M420.69 234.75V245.75M434.32 237.25V243.5M438.86 239.75V244.75M443.4 243.25V282.9M447.95 266V278.5M457.03 266V278.5M470.66 267.5V288.5M475.2 283.25V308.5M488.83 293.25V298.5M497.92 292.25V298.25M507.01 274.1V280M516.09 260V276M543.35 215.75V227M552.44 204.75V212.25M566.07 200.5V211.4M584.24 183.9V218.9M597.87 200.5V221.75M602.41 205.1V232.6M611.5 210.1V386.5M620.58 295.25V321.75M634.21 259.25V277.4M643.3 256.75V304.9M652.38 272.4V287.4M656.92 284.25V302.75M666.01 288V323M670.55 310.25V353.75M684.18 320.75V328.6M702.36 293.6V308.1M706.9 301.8V323.2M711.44 281.2V320.4M715.98 316.3V329.2M720.53 320V329M765.96 264.3V279.2" stroke="#ec3a4a" stroke-width="1.1" fill="none"/>
<g fill="#0a9a82"><rect x="78.16" y="225.5" width="3.6" height="10.25"/><rect x="82.71" y="211.5" width="3.6" height="15"/><rect x="96.34" y="239.25" width="3.6" height="8.5"/><rect x="109.96" y="253.6" width="3.6" height="3.8"/><rect x="114.51" y="242.75" width="3.6" height="11.25"/><rect x="128.14" y="263.75" width="3.6" height="9.35"/><rect x="141.77" y="283.75" width="3.6" height="9.35"/><rect x="146.31" y="272.25" width="3.6" height="11.5"/><rect x="164.48" y="238.9" width="3.6" height="49.6"/><rect x="173.57" y="248.5" width="3.6" height="4"/><rect x="196.28" y="293.1" width="3.6" height="1.9"/><rect x="200.82" y="273.9" width="3.6" height="19.6"/><rect x="214.45" y="266" width="3.6" height="13.75"/><rect x="232.63" y="295.4" width="3.6" height="3.1"/><rect x="237.17" y="294.75" width="3.6" height="1"/><rect x="241.71" y="293.5" width="3.6" height="1.5"/><rect x="250.8" y="297.25" width="3.6" height="1.25"/><rect x="259.88" y="293.5" width="3.6" height="6.5"/><rect x="264.43" y="282.9" width="3.6" height="10.6"/><rect x="268.97" y="280.4" width="3.6" height="3.35"/><rect x="273.51" y="276.6" width="3.6" height="4.4"/><rect x="287.14" y="276.6" width="3.6" height="13.4"/><rect x="305.31" y="283.5" width="3.6" height="8.1"/><rect x="309.86" y="281.9" width="3.6" height="1"/><rect x="314.4" y="275.4" width="3.6" height="7.5"/><rect x="318.94" y="274.1" width="3.6" height="1.65"/><rect x="323.49" y="268.9" width="3.6" height="5.2"/><rect x="332.57" y="269.5" width="3.6" height="5.9"/><rect x="337.11" y="260.4" width="3.6" height="9.6"/><rect x="341.66" y="256.6" width="3.6" height="4.15"/><rect x="346.2" y="248.25" width="3.6" height="9"/><rect x="350.74" y="246.6" width="3.6" height="1.3"/><rect x="355.29" y="233.75" width="3.6" height="14.15"/><rect x="359.83" y="229.75" width="3.6" height="4.35"/><rect x="382.54" y="246" width="3.6" height="1.9"/><rect x="391.63" y="237.5" width="3.6" height="9.1"/><rect x="400.72" y="232" width="3.6" height="10.25"/><rect x="405.26" y="228.5" width="3.6" height="4"/><rect x="409.8" y="227.5" width="3.6" height="1.25"/><rect x="423.43" y="240.75" width="3.6" height="2.5"/><rect x="427.97" y="239.5" width="3.6" height="1"/><rect x="450.69" y="269.1" width="3.6" height="2.9"/><rect x="459.78" y="269.1" width="3.6" height="6.9"/><rect x="464.32" y="268.5" width="3.6" height="1.25"/><rect x="477.95" y="304.75" width="3.6" height="1.25"/><rect x="482.49" y="293.75" width="3.6" height="11.25"/><rect x="491.58" y="293.5" width="3.6" height="3.5"/><rect x="500.66" y="275" width="3.6" height="22.9"/><rect x="509.75" y="262.9" width="3.6" height="16.2"/><rect x="518.84" y="268.75" width="3.6" height="4.5"/><rect x="523.38" y="247.75" width="3.6" height="21.35"/><rect x="527.92" y="236.7" width="3.6" height="11.05"/><rect x="532.46" y="231.7" width="3.6" height="5.4"/><rect x="537.01" y="217" width="3.6" height="14.75"/><rect x="546.09" y="206" width="3.6" height="13.75"/><rect x="555.18" y="210.75" width="3.6" height="1.25"/><rect x="559.72" y="201" width="3.6" height="10.4"/><rect x="568.81" y="195.75" width="3.6" height="9.35"/><rect x="573.35" y="190.1" width="3.6" height="5.9"/><rect x="577.89" y="188.5" width="3.6" height="1"/><rect x="586.98" y="206.75" width="3.6" height="9"/><rect x="591.52" y="200.75" width="3.6" height="6.25"/><rect x="605.15" y="216.4" width="3.6" height="1.2"/><rect x="614.24" y="297" width="3.6" height="3.75"/><rect x="623.32" y="299.5" width="3.6" height="11.6"/><rect x="627.87" y="267.4" width="3.6" height="33.1"/><rect x="636.95" y="259" width="3.6" height="15"/><rect x="646.04" y="279" width="3.6" height="16.75"/><rect x="659.67" y="290.75" width="3.6" height="7.85"/><rect x="673.3" y="331.7" width="3.6" height="5.2"/><rect x="677.84" y="323" width="3.6" height="8.5"/><rect x="686.93" y="318" width="3.6" height="5.6"/><rect x="691.47" y="314.25" width="3.6" height="4.35"/><rect x="696.01" y="300" width="3.6" height="14.7"/><rect x="723.27" y="314.1" width="3.6" height="12"/><rect x="727.81" y="309.2" width="3.6" height="5.9"/><rect x="732.36" y="300.9" width="3.6" height="8.6"/><rect x="736.9" y="300.1" width="3.6" height="1"/><rect x="741.44" y="297.5" width="3.6" height="3.6"/><rect x="745.99" y="295.1" width="3.6" height="3.1"/><rect x="750.53" y="282.9" width="3.6" height="12.9"/><rect x="755.07" y="273.1" width="3.6" height="10.4"/><rect x="759.61" y="269.7" width="3.6" height="3.9"/><rect x="768.7" y="275.2" width="3.6" height="2.8"/></g>
<g fill="#ec3a4a"><rect x="87.25" y="211.5" width="3.6" height="13.4"/><rect x="91.79" y="224" width="3.6" height="23.4"/><rect x="100.88" y="239.5" width="3.6" height="16"/><rect x="105.42" y="255.5" width="3.6" height="1.9"/><rect x="119.05" y="242.4" width="3.6" height="8.5"/><rect x="123.59" y="250.25" width="3.6" height="23.5"/><rect x="132.68" y="263.75" width="3.6" height="4.75"/><rect x="137.22" y="267.75" width="3.6" height="24.75"/><rect x="150.85" y="272.25" width="3.6" height="9.35"/><rect x="155.39" y="281.6" width="3.6" height="6.5"/><rect x="159.94" y="286.9" width="3.6" height="1.2"/><rect x="169.02" y="239.5" width="3.6" height="13"/><rect x="178.11" y="247.6" width="3.6" height="8.4"/><rect x="182.65" y="255.7" width="3.6" height="3"/><rect x="187.2" y="258.1" width="3.6" height="20.65"/><rect x="191.74" y="278.75" width="3.6" height="16.25"/><rect x="205.37" y="273" width="3.6" height="1.2"/><rect x="209.91" y="275.4" width="3.6" height="4.6"/><rect x="219" y="266" width="3.6" height="3.75"/><rect x="223.54" y="269.4" width="3.6" height="21"/><rect x="228.08" y="290" width="3.6" height="8.5"/><rect x="246.25" y="293.75" width="3.6" height="5.35"/><rect x="255.34" y="297" width="3.6" height="2.5"/><rect x="278.06" y="276.6" width="3.6" height="7.5"/><rect x="282.6" y="283.5" width="3.6" height="6.25"/><rect x="291.68" y="276.6" width="3.6" height="11.9"/><rect x="296.23" y="287.9" width="3.6" height="1"/><rect x="300.77" y="287.9" width="3.6" height="4.1"/><rect x="328.03" y="268.25" width="3.6" height="7.15"/><rect x="364.37" y="229.75" width="3.6" height="4"/><rect x="368.92" y="233.25" width="3.6" height="4"/><rect x="373.46" y="236.4" width="3.6" height="6.1"/><rect x="378" y="242" width="3.6" height="5.9"/><rect x="387.09" y="245.75" width="3.6" height="1.25"/><rect x="396.17" y="237.9" width="3.6" height="5"/><rect x="414.35" y="227.9" width="3.6" height="9.1"/><rect x="418.89" y="236" width="3.6" height="6.9"/><rect x="432.52" y="240" width="3.6" height="2.25"/><rect x="437.06" y="241.6" width="3.6" height="2.9"/><rect x="441.6" y="245" width="3.6" height="26.6"/><rect x="446.15" y="270.75" width="3.6" height="1"/><rect x="455.23" y="269.1" width="3.6" height="6.9"/><rect x="468.86" y="268.75" width="3.6" height="19.5"/><rect x="473.4" y="287.9" width="3.6" height="17.85"/><rect x="487.03" y="293.5" width="3.6" height="3.5"/><rect x="496.12" y="293.5" width="3.6" height="4.4"/><rect x="505.21" y="275" width="3.6" height="3.75"/><rect x="514.29" y="262.5" width="3.6" height="10.75"/><rect x="541.55" y="216.75" width="3.6" height="3"/><rect x="550.64" y="205.75" width="3.6" height="6.25"/><rect x="564.27" y="201" width="3.6" height="4.1"/><rect x="582.44" y="189.25" width="3.6" height="26.5"/><rect x="596.07" y="200.75" width="3.6" height="11.85"/><rect x="600.61" y="212" width="3.6" height="6.25"/><rect x="609.7" y="217.6" width="3.6" height="82.3"/><rect x="618.78" y="296.5" width="3.6" height="14.6"/><rect x="632.41" y="267.75" width="3.6" height="5.85"/><rect x="641.5" y="259.25" width="3.6" height="36.5"/><rect x="650.58" y="279" width="3.6" height="6.5"/><rect x="655.12" y="285.5" width="3.6" height="13.1"/><rect x="664.21" y="291.1" width="3.6" height="26.3"/><rect x="668.75" y="317" width="3.6" height="19.9"/><rect x="682.38" y="322" width="3.6" height="1.6"/><rect x="700.56" y="300" width="3.6" height="2.1"/><rect x="705.1" y="302.1" width="3.6" height="13.6"/><rect x="709.64" y="315.9" width="3.6" height="3.3"/><rect x="714.18" y="318.8" width="3.6" height="5"/><rect x="718.73" y="323.2" width="3.6" height="3.1"/><rect x="764.16" y="269.7" width="3.6" height="8.6"/></g>
<line x1="77.5" y1="452" x2="964" y2="452" stroke="#0c3a31" stroke-width="2"/>
<rect x="78.2" y="267.8" width="43.8" height="16" rx="2" fill="#0a9a82"/>
<text x="83.2" y="280" font-size="11.4" fill="#e9f6f3" stroke="#e9f6f3" stroke-width="0.15" textLength="34.6" lengthAdjust="spacingAndGlyphs">TOTAL</text>
<g>
<circle cx="770.5" cy="504.9" r="8.8" fill="#ffffff" stroke="#9a3fb0" stroke-width="1.5"/>
<path d="M772.6 499.3 L767 506.1 L770.2 506.1 L768.5 510.8 L774.2 503.8 L770.9 503.8 Z" fill="#a83fd0"/>
<g transform="translate(803.1 504.9)">
<circle r="9.3" fill="#ffffff"/>
<circle r="8.55" fill="#ffffff" stroke="#e8525d" stroke-width="1.5"/>
<g clip-path="url(#flagclip)">
<rect x="-7.3" y="-7.3" width="14.6" height="14.6" fill="#fbe9ea"/>
<rect x="-7.3" y="-7.3" width="14.6" height="2.3" fill="#e8505b"/>
<rect x="-7.3" y="-2.9" width="14.6" height="2.7" fill="#e8505b"/>
<rect x="-7.3" y="3.9" width="14.6" height="3.4" fill="#e8505b"/>
<rect x="-7.3" y="-7.3" width="9.2" height="8.4" fill="#4f96ea"/>
<path d="M-5.6 -5.6H1.2M-5.6 -3.5H1.2M-5.6 -1.4H1.2" stroke="#b9d6f7" stroke-width="0.5" stroke-dasharray="0.6 1.1"/>
</g></g>
<g transform="translate(793.75 504.9)">
<circle r="9.3" fill="#ffffff"/>
<circle r="8.55" fill="#ffffff" stroke="#e8525d" stroke-width="1.5"/>
<g clip-path="url(#flagclip)">
<rect x="-7.3" y="-7.3" width="14.6" height="14.6" fill="#fbe9ea"/>
<rect x="-7.3" y="-7.3" width="14.6" height="2.3" fill="#e8505b"/>
<rect x="-7.3" y="-2.9" width="14.6" height="2.7" fill="#e8505b"/>
<rect x="-7.3" y="3.9" width="14.6" height="3.4" fill="#e8505b"/>
<rect x="-7.3" y="-7.3" width="9.2" height="8.4" fill="#4f96ea"/>
<path d="M-5.6 -5.6H1.2M-5.6 -3.5H1.2M-5.6 -1.4H1.2" stroke="#b9d6f7" stroke-width="0.5" stroke-dasharray="0.6 1.1"/>
</g></g>
<g transform="translate(784.1 504.9)">
<circle r="9.3" fill="#ffffff"/>
<circle r="8.55" fill="#ffffff" stroke="#e8525d" stroke-width="1.5"/>
<g clip-path="url(#flagclip)">
<rect x="-7.3" y="-7.3" width="14.6" height="14.6" fill="#fbe9ea"/>
<rect x="-7.3" y="-7.3" width="14.6" height="2.3" fill="#e8505b"/>
<rect x="-7.3" y="-2.9" width="14.6" height="2.7" fill="#e8505b"/>
<rect x="-7.3" y="3.9" width="14.6" height="3.4" fill="#e8505b"/>
<rect x="-7.3" y="-7.3" width="9.2" height="8.4" fill="#4f96ea"/>
<path d="M-5.6 -5.6H1.2M-5.6 -3.5H1.2M-5.6 -1.4H1.2" stroke="#b9d6f7" stroke-width="0.5" stroke-dasharray="0.6 1.1"/>
</g></g>
</g>
</g>
<text x="68.8" y="69.1" font-size="11" fill="#131722" text-anchor="end" textLength="24.8" lengthAdjust="spacingAndGlyphs">4.8 T</text>
<text x="68.8" y="112" font-size="11" fill="#131722" text-anchor="end" textLength="24.8" lengthAdjust="spacingAndGlyphs">4.6 T</text>
<text x="68.8" y="154.9" font-size="11" fill="#131722" text-anchor="end" textLength="24.8" lengthAdjust="spacingAndGlyphs">4.4 T</text>
<text x="68.8" y="412.3" font-size="11" fill="#131722" text-anchor="end" textLength="24.8" lengthAdjust="spacingAndGlyphs">3.2 T</text>
<text x="68.8" y="498.1" font-size="11" fill="#131722" text-anchor="end" textLength="24.8" lengthAdjust="spacingAndGlyphs">2.8 T</text>
<path d="M33 154H77.2V170.3H33Q30.8 170.3 30.8 168.1V156.2Q30.8 154 33 154Z" fill="#f80a0a"/>
<text x="68.8" y="166.1" font-size="11" fill="#f7f7f7" stroke="#f7f7f7" stroke-width="0.25" text-anchor="end" textLength="32.2" lengthAdjust="spacingAndGlyphs">4.26 T</text>
<path d="M33 170H77.2V186.5H33Q30.8 186.5 30.8 184.3V172.2Q30.8 170 33 170Z" fill="#808080"/>
<text x="68.8" y="182.2" font-size="11" fill="#f7f7f7" stroke="#f7f7f7" stroke-width="0.25" text-anchor="end" textLength="32.2" lengthAdjust="spacingAndGlyphs">4.16 T</text>
<path d="M40.2 186.2H77.2V202.8H40.2Q38 202.8 38 200.6V188.4Q38 186.2 40.2 186.2Z" fill="#fe8010"/>
<text x="68.8" y="198.45" font-size="11" fill="#f7f7f7" stroke="#f7f7f7" stroke-width="0.25" text-anchor="end" textLength="25" lengthAdjust="spacingAndGlyphs">4.1 T</text>
<path d="M33 202.5H77.2V218.8H33Q30.8 218.8 30.8 216.6V204.7Q30.8 202.5 33 202.5Z" fill="#808080"/>
<text x="68.8" y="214.6" font-size="11" fill="#f7f7f7" stroke="#f7f7f7" stroke-width="0.25" text-anchor="end" textLength="32.2" lengthAdjust="spacingAndGlyphs">4.05 T</text>
<path d="M51.2 218.5H77.2V235.3H51.2Q49 235.3 49 233.1V220.7Q49 218.5 51.2 218.5Z" fill="#808080"/>
<text x="68.8" y="230.85" font-size="11" fill="#f7f7f7" stroke="#f7f7f7" stroke-width="0.25" text-anchor="end" textLength="14.5" lengthAdjust="spacingAndGlyphs">4 T</text>
<path d="M33 235H77.2V250.8H33Q30.8 250.8 30.8 248.6V237.2Q30.8 235 33 235Z" fill="#808080"/>
<text x="68.8" y="246.85" font-size="11" fill="#f7f7f7" stroke="#f7f7f7" stroke-width="0.25" text-anchor="end" textLength="32.2" lengthAdjust="spacingAndGlyphs">3.94 T</text>
<path d="M33 250.5H77.2V267.8H33Q30.8 267.8 30.8 265.6V252.7Q30.8 250.5 33 250.5Z" fill="#f21df2"/>
<text x="68.8" y="263.1" font-size="11" fill="#f7f7f7" stroke="#f7f7f7" stroke-width="0.25" text-anchor="end" textLength="32.2" lengthAdjust="spacingAndGlyphs">3.84 T</text>
<path d="M33 297H77.2V313.3H33Q30.8 313.3 30.8 311.1V299.2Q30.8 297 33 297Z" fill="#808080"/>
<text x="68.8" y="309.1" font-size="11" fill="#f7f7f7" stroke="#f7f7f7" stroke-width="0.25" text-anchor="end" textLength="32.2" lengthAdjust="spacingAndGlyphs">3.74 T</text>
<path d="M33 313H77.2V329.3H33Q30.8 329.3 30.8 327.1V315.2Q30.8 313 33 313Z" fill="#808080"/>
<text x="68.8" y="325.1" font-size="11" fill="#f7f7f7" stroke="#f7f7f7" stroke-width="0.25" text-anchor="end" textLength="32.2" lengthAdjust="spacingAndGlyphs">3.68 T</text>
<path d="M33 329H77.2V345.8H33Q30.8 345.8 30.8 343.6V331.2Q30.8 329 33 329Z" fill="#808080"/>
<text x="68.8" y="341.35" font-size="11" fill="#f7f7f7" stroke="#f7f7f7" stroke-width="0.25" text-anchor="end" textLength="32.2" lengthAdjust="spacingAndGlyphs">3.63 T</text>
<path d="M33 345.5H77.2V362.3H33Q30.8 362.3 30.8 360.1V347.7Q30.8 345.5 33 345.5Z" fill="#fe8010"/>
<text x="68.8" y="357.85" font-size="11" fill="#f7f7f7" stroke="#f7f7f7" stroke-width="0.25" text-anchor="end" textLength="32.2" lengthAdjust="spacingAndGlyphs">3.58 T</text>
<path d="M33 362H77.2V378.3H33Q30.8 378.3 30.8 376.1V364.2Q30.8 362 33 362Z" fill="#808080"/>
<text x="68.8" y="374.1" font-size="11" fill="#f7f7f7" stroke="#f7f7f7" stroke-width="0.25" text-anchor="end" textLength="32.2" lengthAdjust="spacingAndGlyphs">3.52 T</text>
<path d="M33 378H77.2V394.7H33Q30.8 394.7 30.8 392.5V380.2Q30.8 378 33 378Z" fill="#0f7d14"/>
<text x="68.8" y="390.3" font-size="11" fill="#f7f7f7" stroke="#f7f7f7" stroke-width="0.25" text-anchor="end" textLength="32.2" lengthAdjust="spacingAndGlyphs">3.42 T</text>
<path d="M16.2 267.3H77.2V297.2H16.2Q14 297.2 14 295V269.5Q14 267.3 16.2 267.3Z" fill="#0a9a82"/>
<text x="68.8" y="279.8" font-size="11" fill="#e6f5f2" stroke="#e6f5f2" stroke-width="0.2" text-anchor="end" textLength="32.2" lengthAdjust="spacingAndGlyphs">3.82 T</text>
<text x="68.8" y="293.4" font-size="11" fill="#bfe7df" stroke="#bfe7df" stroke-width="0.2" text-anchor="end" textLength="48.4" lengthAdjust="spacingAndGlyphs">04:13:50</text>
<path d="M51 444.2H77.2V460H51Q48.8 460 48.8 457.8V446.4Q48.8 444.2 51 444.2Z" fill="#0c3a31"/>
<text x="68.8" y="456.2" font-size="11" fill="#e4ecea" stroke="#e4ecea" stroke-width="0.2" text-anchor="end" textLength="14.5" lengthAdjust="spacingAndGlyphs">3 T</text>
<rect x="14.5" y="30.5" width="59.5" height="22.5" rx="3" fill="#ffffff" stroke="#eceef3" stroke-width="1"/>
<text x="22.6" y="45.6" font-size="11.7" fill="#131722" stroke="#131722" stroke-width="0.22" textLength="22.6" lengthAdjust="spacingAndGlyphs">USD</text>
<text x="86" y="44.6" font-size="11.7" fill="#131722" stroke="#131722" stroke-width="0.22" textLength="145" lengthAdjust="spacingAndGlyphs">Crypto Total Market Cap, $</text>
<text x="235" y="44.6" font-size="11.7" fill="#131722" stroke="#131722" stroke-width="0.22">·</text>
<text x="241.4" y="44.6" font-size="11.7" fill="#131722" stroke="#131722" stroke-width="0.22" textLength="17.8" lengthAdjust="spacingAndGlyphs">12h</text>
<text x="263.6" y="44.6" font-size="11.7" fill="#131722" stroke="#131722" stroke-width="0.22">·</text>
<text x="270" y="44.6" font-size="11.7" fill="#131722" stroke="#131722" stroke-width="0.22" textLength="66.6" lengthAdjust="spacingAndGlyphs">CRYPTOCAP</text>
<text x="346" y="44.6" font-size="11.7" fill="#131722" stroke="#131722" stroke-width="0.22" textLength="7.5" lengthAdjust="spacingAndGlyphs">O</text>
<text x="354" y="44.6" font-size="11.7" fill="#0a9a82" stroke="#0a9a82" stroke-width="0.22" textLength="31" lengthAdjust="spacingAndGlyphs">3.81 T</text>
<text x="392.5" y="44.6" font-size="11.7" fill="#131722" stroke="#131722" stroke-width="0.22" textLength="7.5" lengthAdjust="spacingAndGlyphs">H</text>
<text x="400.3" y="44.6" font-size="11.7" fill="#0a9a82" stroke="#0a9a82" stroke-width="0.22" textLength="32" lengthAdjust="spacingAndGlyphs">3.83 T</text>
<text x="440" y="44.6" font-size="11.7" fill="#131722" stroke="#131722" stroke-width="0.22" textLength="5.6" lengthAdjust="spacingAndGlyphs">L</text>
<text x="446" y="44.6" font-size="11.7" fill="#0a9a82" stroke="#0a9a82" stroke-width="0.22" textLength="31.5" lengthAdjust="spacingAndGlyphs">3.79 T</text>
<text x="486" y="44.6" font-size="11.7" fill="#131722" stroke="#131722" stroke-width="0.22" textLength="7.5" lengthAdjust="spacingAndGlyphs">C</text>
<text x="494" y="44.6" font-size="11.7" fill="#0a9a82" stroke="#0a9a82" stroke-width="0.22" textLength="31.5" lengthAdjust="spacingAndGlyphs">3.82 T</text>
<text x="533" y="44.6" font-size="11.7" fill="#0a9a82" stroke="#0a9a82" stroke-width="0.22" textLength="92" lengthAdjust="spacingAndGlyphs">+8.04 B (+0.21%)</text>
<text x="86" y="60.5" font-size="11.7" fill="#131722" stroke="#131722" stroke-width="0.22" textLength="553.5" lengthAdjust="spacingAndGlyphs">Volume Profile Bar-Magnified Order Blocks [JacobMagleby] (7, 10, Close Engulfs 100% Of Order Block)</text>
<text x="86" y="76.5" font-size="11.7" fill="#131722" stroke="#131722" stroke-width="0.22" textLength="96.3" lengthAdjust="spacingAndGlyphs">FBB (200, hlc3, 3)</text>
<text x="190.5" y="76.5" font-size="11.7" fill="#f21df2" stroke="#f21df2" stroke-width="0.22" textLength="32.2" lengthAdjust="spacingAndGlyphs">3.84 T</text>
<text x="230.4" y="76.5" font-size="11.7" fill="#8a8a8a" stroke="#8a8a8a" stroke-width="0.22" textLength="32.1" lengthAdjust="spacingAndGlyphs">3.94 T</text>
<text x="270.2" y="76.5" font-size="11.7" fill="#8a8a8a" stroke="#8a8a8a" stroke-width="0.22" textLength="14.1" lengthAdjust="spacingAndGlyphs">4 T</text>
<text x="292.5" y="76.5" font-size="11.7" fill="#8a8a8a" stroke="#8a8a8a" stroke-width="0.22" textLength="31" lengthAdjust="spacingAndGlyphs">4.05 T</text>
<text x="332.3" y="76.5" font-size="11.7" fill="#fb8a1e" stroke="#fb8a1e" stroke-width="0.22" textLength="23" lengthAdjust="spacingAndGlyphs">4.1 T</text>
<text x="362.8" y="76.5" font-size="11.7" fill="#8a8a8a" stroke="#8a8a8a" stroke-width="0.22" textLength="30" lengthAdjust="spacingAndGlyphs">4.16 T</text>
<text x="400.3" y="76.5" font-size="11.7" fill="#f21717" stroke="#f21717" stroke-width="0.22" textLength="34" lengthAdjust="spacingAndGlyphs">4.26 T</text>
<text x="441" y="76.5" font-size="11.7" fill="#8a8a8a" stroke="#8a8a8a" stroke-width="0.22" textLength="31.5" lengthAdjust="spacingAndGlyphs">3.74 T</text>
<text x="478.5" y="76.5" font-size="11.7" fill="#8a8a8a" stroke="#8a8a8a" stroke-width="0.22" textLength="31.5" lengthAdjust="spacingAndGlyphs">3.68 T</text>
<text x="517" y="76.5" font-size="11.7" fill="#8a8a8a" stroke="#8a8a8a" stroke-width="0.22" textLength="33" lengthAdjust="spacingAndGlyphs">3.63 T</text>
<text x="558" y="76.5" font-size="11.7" fill="#fb8a1e" stroke="#fb8a1e" stroke-width="0.22" textLength="33" lengthAdjust="spacingAndGlyphs">3.58 T</text>
<text x="597" y="76.5" font-size="11.7" fill="#8a8a8a" stroke="#8a8a8a" stroke-width="0.22" textLength="32.5" lengthAdjust="spacingAndGlyphs">3.52 T</text>
<text x="636" y="76.5" font-size="11.7" fill="#1c861f" stroke="#1c861f" stroke-width="0.22" textLength="33.5" lengthAdjust="spacingAndGlyphs">3.42 T</text>
<g clip-path="url(#rsiclip)">
<rect x="78.3" y="558.5" width="885.7" height="95.8" fill="#7e57c2" fill-opacity="0.1"/>
<line x1="78.3" y1="558.5" x2="964" y2="558.5" stroke="#8d8d94" stroke-width="1.15" stroke-dasharray="5.5 5.075"/>
<line x1="78.3" y1="606.4" x2="964" y2="606.4" stroke="#b0b0bc" stroke-width="1.15" stroke-dasharray="5.5 5.075"/>
<line x1="78.3" y1="654.3" x2="964" y2="654.3" stroke="#8d8d94" stroke-width="1.15" stroke-dasharray="5.5 5.075"/>
<path d="M78.33 576.69 L84.39 570.63 L89.58 568.9 L95.65 568.9 L99.97 569.77 L108.63 574.1 L117.29 577.56 L125.95 582.75 L134.61 587.95 L143.26 598.34 L151.92 606.13 L160.58 611.84 L169.24 610.81 L177.9 610.81 L186.55 611.32 L195.21 613.06 L203.87 612.19 L212.53 610.81 L221.19 608.73 L228.11 610.81 L233.46 613.06 L238.66 616 L247.32 619.64 L252.51 620.33 L261.17 619.46 L273.29 617.73 L285.41 618.25 L295.8 615.65 L302.73 614.79 L311.39 610.81 L320.04 606.13 L328.7 603.53 L337.36 601.45 L346.02 596.61 L354.68 589.68 L363.33 581.89 L371.99 575.83 L380.65 574.1 L385.84 573.4 L389.46 572.71 L394.66 571.5 L403.32 570.63 L411.97 570.63 L420.63 574.1 L429.29 578.94 L437.95 582.75 L446.61 589.68 L455.26 597.47 L463.92 605.26 L472.58 615.65 L481.24 627.77 L489.9 635.57 L498.55 640.76 L503.75 640.76 L510.68 637.3 L519.33 632.1 L529.72 623.45 L536.65 613.92 L540.11 607.86 L543.46 604.4 L548.66 594.87 L557.32 582.75 L565.97 573.23 L574.63 567.17 L581.56 563.36 L590.22 562.84 L598.87 565.44 L607.53 570.63 L616.19 582.75 L624.85 595.74 L633.51 604.4 L642.16 614.79 L650.82 620.85 L659.48 626.91 L666.41 632.97 L671.6 635.05 L678.53 632.62 L687.19 630.89 L692.38 630.55 L693.46 630.72 L698.66 630.37 L707.32 630.37 L715.97 630.89 L724.63 630.89 L729.83 629.51 L738.48 624.31 L747.14 619.12 L755.8 613.92 L764.46 608.73 L770.52 605.61" fill="none" stroke="#f0e38d" stroke-width="1.6" stroke-linejoin="round"/>
<path d="M78.3 553.32 L79.96 550.72 L84.51 543.79 L89.05 564.57 L93.59 591.06 L98.14 585 L102.68 600.94 L107.22 602.67 L111.76 599.72 L116.31 590.03 L120.85 598.34 L125.39 619.12 L129.94 610.11 L134.48 613.06 L139.02 632.62 L143.57 623.45 L148.11 613.4 L152.65 619.12 L157.19 625.18 L161.74 625.7 L166.28 585.87 L170.82 595.74 L175.37 593.66 L179.91 599.72 L184.45 602.15 L189 616.52 L193.54 628.64 L198.08 626.39 L202.62 610.46 L207.17 611.32 L211.71 614.27 L216.25 602.67 L220.8 605.78 L225.34 621.71 L229.88 627.77 L234.43 625.7 L238.97 625.18 L243.51 623.45 L248.05 627.77 L252.6 625.7 L257.14 627.43 L261.68 619.98 L266.23 607.34 L270.77 603.53 L275.31 599.72 L279.86 607.86 L284.4 615.65 L288.94 599.2 L293.48 612.19 L298.03 612.71 L302.57 617.04 L307.11 606.13 L311.66 603.88 L316.2 595.74 L320.74 593.49 L325.29 587.08 L329.83 597.99 L334.37 591.41 L338.91 579.64 L343.46 576.17 L348 566.82 L352.54 565.96 L357.09 554.18 L361.63 551.24 L366.17 558.16 L370.72 567.17 L375.26 576.69 L379.8 586.56 L384.34 585 L388.89 584.66 L393.43 573.75 L397.97 581.37 L402.52 569.77 L407.06 565.78 L411.6 565.44 L416.15 581.89 L420.69 594.87 L425.23 592.28 L429.77 591.41 L434.32 594.87 L438.86 600.94 L443.4 639.9 L447.95 639.9 L452.49 636.43 L457.03 643.36 L461.58 630.37 L466.12 630.03 L470.66 650.29 L475.2 664.66 L479.75 662.41 L484.29 642.49 L488.83 644.74 L493.38 640.42 L497.92 643.36 L502.46 610.11 L507.01 612.19 L511.55 595.74 L516.09 606.65 L520.63 601.45 L525.18 581.37 L529.72 572.36 L534.26 568.55 L538.81 559.03 L543.35 561.8 L547.89 554.18 L552.44 562.32 L556.98 561.63 L561.52 555.39 L566.07 560.24 L570.61 554.7 L575.15 551.24 L579.69 550.37 L584.24 588.81 L588.78 581.89 L593.32 577.21 L597.87 591.41 L602.41 597.47 L606.95 597.47 L611.5 654.61 L616.04 651.67 L620.58 657.56 L625.12 646.82 L629.67 620.5 L634.21 622.58 L638.75 613.92 L643.3 632.1 L647.84 621.37 L652.38 624.66 L656.92 630.89 L661.47 626.04 L666.01 637.3 L670.55 645.96 L675.1 641.63 L679.64 635.91 L684.18 635.22 L688.73 631.76 L693.27 627.6 L697.81 616 L702.36 616.87 L706.9 626.04 L711.44 628.29 L715.98 631.58 L720.53 633.32 L725.07 620.85 L729.61 616 L734.16 607.86 L738.7 607.34 L743.24 604.74 L747.78 602.67 L752.33 590.03 L756.87 581.37 L761.41 578.08 L765.96 588.47 L770.5 587.08" fill="none" stroke="#7c68b8" stroke-width="1.2" stroke-linejoin="round"/>
</g>
<text x="86" y="537.4" font-size="11.5" fill="#131722" stroke="#131722" stroke-width="0.22" textLength="76.5" lengthAdjust="spacingAndGlyphs">RSI (14, close)</text>
<text x="170.3" y="537.4" font-size="11.5" fill="#8466c8" stroke="#8466c8" stroke-width="0.22" textLength="28.5" lengthAdjust="spacingAndGlyphs">57.97</text>
<text x="206" y="537.4" font-size="11.5" fill="#f2d648" stroke="#f2d648" stroke-width="0.22" textLength="30" lengthAdjust="spacingAndGlyphs">50.26</text>
<text x="1005.3" y="538.5" font-size="11" fill="#131722" text-anchor="end" textLength="32" lengthAdjust="spacingAndGlyphs">80.00</text>
<text x="1005.3" y="586.2" font-size="11" fill="#131722" text-anchor="end" textLength="32" lengthAdjust="spacingAndGlyphs">60.00</text>
<text x="1005.3" y="633.4" font-size="11" fill="#131722" text-anchor="end" textLength="32" lengthAdjust="spacingAndGlyphs">40.00</text>
<rect x="966" y="579.2" width="44.2" height="16.1" rx="2" fill="#7e57c2"/>
<text x="1005.3" y="591.1" font-size="11" fill="#ece6f8" text-anchor="end" textLength="31.5" lengthAdjust="spacingAndGlyphs">57.97</text>
<rect x="966" y="598" width="44.2" height="15.6" rx="2" fill="#f9d62e"/>
<text x="1005.3" y="609.6" font-size="11" fill="#2a2410" text-anchor="end" textLength="31.5" lengthAdjust="spacingAndGlyphs">50.26</text>
<text x="252.3" y="685.2" font-size="12" fill="#131722" text-anchor="middle" font-weight="bold">Sep</text>
<text x="525.2" y="685.2" font-size="12" fill="#131722" text-anchor="middle" font-weight="bold">Oct</text>
<text x="807.2" y="685.2" font-size="12" fill="#131722" text-anchor="middle" font-weight="bold">Nov</text>
<circle cx="44.3" cy="680.5" r="8.4" fill="#f4f4f6"/>
<text x="44.3" y="684" font-size="9.5" fill="#55585f" text-anchor="middle">Z</text>
<circle cx="990.2" cy="681" r="8.6" fill="#f4f4f6"/>
<text x="990.2" y="684.8" font-size="10.5" fill="#55585f" text-anchor="middle">A</text>
<g fill="#16181f">
<path d="M11.4 714.9H23.7V728.65H17V721.4H11.4Z"/>
<circle cx="27.8" cy="717.6" r="2.65"/>
<path d="M32.5 714.9H39.55L33.75 728.65H26.4Z"/>
</g>
<text x="46.4" y="728.7" font-size="19.2" fill="#16181f" font-weight="bold" textLength="115" lengthAdjust="spacingAndGlyphs">TradingView</text>
</svg>
</body></html>
